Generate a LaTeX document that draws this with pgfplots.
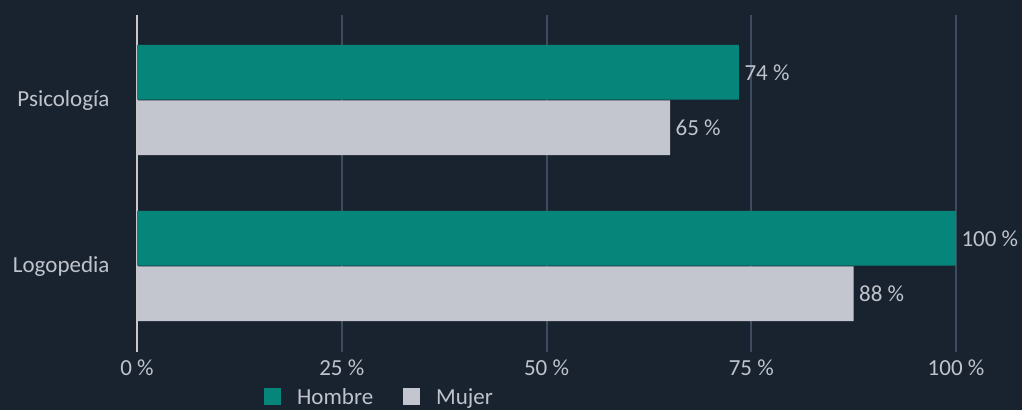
\documentclass[border=0pt]{standalone}
\usepackage{pgfplots}
\pgfplotsset{compat=1.18}
\usepackage{fontspec}
\setmainfont{Carlito}
\definecolor{bg}{HTML}{19232F}
\definecolor{hom}{HTML}{06857A}
\definecolor{muj}{HTML}{C3C6CF}
\definecolor{gridc}{HTML}{3E4B5E}
\definecolor{zeroc}{HTML}{C8C8C8}
\definecolor{txt}{HTML}{BFC3CC}
\begin{document}
\begin{tikzpicture}[x=1pt,y=1pt]
\fill[bg] (0,0) rectangle (1022,410);
\useasboundingbox (0,0) rectangle (1022,410);
\begin{axis}[
  at={(137pt,58pt)}, anchor=south west,
  x=8.19pt, y=166pt,
  xmin=0, xmax=100, ymin=-0.518, ymax=1.512,
  axis line style={draw=none},
  major tick length=0pt,
  tick style={draw=none},
  xtick={25,50,75,100},
  xticklabels={25 \%,50 \%,75 \%,100 \%},
  extra x ticks={0},
  extra x tick labels={0 \%},
  extra x tick style={grid style={zeroc, line width=2pt}},
  xmajorgrids,
  grid style={gridc, line width=2pt},
  ytick={0,1},
  yticklabels={Logopedia, Psicología},
  ticklabel style={font=\fontsize{23}{27}\selectfont, text=txt},
  yticklabel style={xshift=-24pt},
  xticklabel style={yshift=-4pt},
  legend style={at={(0.155,-0.1335)}, anchor=west, draw=none, fill=none,
    text=txt, font=\fontsize{23}{27}\selectfont, inner sep=0pt,
    legend columns=-1,
    /tikz/every odd column/.append style={column sep=14pt},
    /tikz/every even column/.append style={column sep=28pt}},
  legend image code/.code={\fill[#1] (0pt,-8.5pt) rectangle (17pt,8.5pt);},
  nodes near coords={\pgfplotspointmeta\ \%},
  nodes near coords style={font=\fontsize{23}{27}\selectfont, text=txt, anchor=west, xshift=2pt},
  point meta=explicit symbolic,
]
\addplot[xbar, bar width=0.33, bar shift=0.167, fill=hom, draw=none,
  every node near coord/.append style={yshift=27.7pt}]
  coordinates {(73.5,1) [74] (100,0) [100]};
\addlegendentry{Hombre}
\addplot[xbar, bar width=0.33, bar shift=-0.167, fill=muj, draw=none,
  every node near coord/.append style={yshift=-27.7pt}]
  coordinates {(65.1,1) [65] (87.5,0) [88]};
\addlegendentry{Mujer}
\end{axis}
\end{tikzpicture}
\end{document}
